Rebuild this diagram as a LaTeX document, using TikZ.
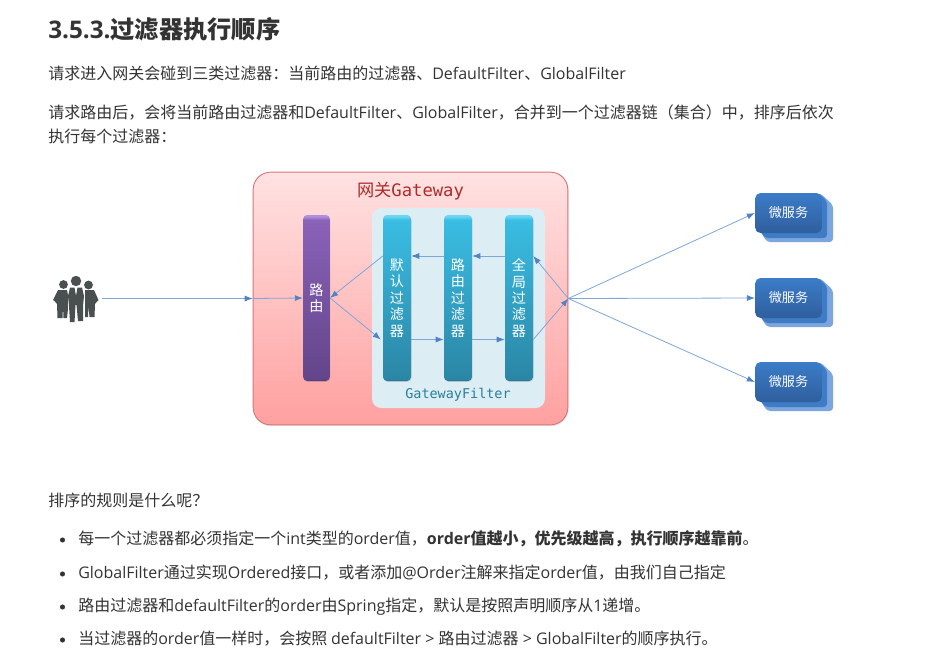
\documentclass[tikz,border=0pt]{standalone}
\usepackage{fontspec}
\usetikzlibrary{arrows.meta,shadows}
\setmainfont{Open Sans}
\newfontfamily\cjk{Noto Sans CJK SC}
\newfontfamily\monof{DejaVu Sans Mono}
\newcommand{\zh}[1]{{\cjk #1}}
\definecolor{inktext}{HTML}{333333}
\definecolor{linkc}{HTML}{7FA6D8}
\definecolor{tipc}{HTML}{4F83C4}
\definecolor{iconc}{HTML}{4A4F50}
\definecolor{gwedge}{HTML}{D9757A}
\definecolor{gwtop}{HTML}{FFE2E2}
\definecolor{gwbot}{HTML}{FFA0A0}
\definecolor{gwtext}{HTML}{B02A2A}
\definecolor{panelc}{HTML}{DCEDF4}
\definecolor{paneltext}{HTML}{2A7F9A}
\definecolor{svcback}{HTML}{7DA5DE}
\definecolor{svcmid}{HTML}{3E7CC6}
\definecolor{svctop}{HTML}{3C7CC8}
\definecolor{svcbot}{HTML}{2F5F9E}
\definecolor{BA}{HTML}{226F8C}
\definecolor{BB}{HTML}{2B86A5}
\definecolor{BC}{HTML}{3ABDE3}
\definecolor{BD}{HTML}{6AD6F2}
\definecolor{PA}{HTML}{4F3570}
\definecolor{PB}{HTML}{63458A}
\definecolor{PC}{HTML}{8A62B8}
\definecolor{PD}{HTML}{B08FDC}
\pgfdeclareverticalshading{bluebar}{100bp}{color(0bp)=(BA);color(25bp)=(BA);color(25.6bp)=(BB);color(73.5bp)=(BC);color(74.6bp)=(BD);color(100bp)=(BD)}
\pgfdeclareverticalshading{purplebar}{100bp}{color(0bp)=(PA);color(25bp)=(PA);color(25.6bp)=(PB);color(73.5bp)=(PC);color(74.6bp)=(PD);color(100bp)=(PD)}
\tikzset{
  body/.style={anchor=base west,inner sep=0pt,text=inktext,font=\fontsize{12pt}{14pt}\selectfont},
  bar/.style={rounded corners=3pt,inner sep=0pt,minimum width=21pt,minimum height=124.5pt,text=white,
    align=center,font=\cjk\fontsize{10.6pt}{12.3pt}\selectfont,drop shadow={shadow xshift=0.4pt,shadow yshift=-0.6pt,opacity=0.25}},
  bluebarst/.style={bar,shading=bluebar},
  purplebarst/.style={bar,minimum width=20pt,shading=purplebar},
  link/.style={draw=linkc,line width=0.6pt,-{Latex[length=6pt,width=4.5pt,color=tipc]}},
  svcfront/.style={rounded corners=4pt,inner sep=0pt,minimum width=50pt,minimum height=30pt,
    top color=svctop,bottom color=svcbot,text=white,font=\cjk\fontsize{9.8pt}{12pt}\selectfont},
  bullet/.style={circle,fill=inktext,inner sep=0pt,minimum size=3.8pt},
}
\begin{document}
\begin{tikzpicture}[x=0.75pt,y=-0.75pt]
\useasboundingbox (0,0) rectangle (937,661);
\fill[white] (0,0) rectangle (937,661);
% texts
\node[body,font=\fontsize{18.2pt}{22pt}\selectfont\bfseries] (title) at (48,38) {3.5.3.\zh{过滤器执行顺序}};
\node[body] (t1) at (48,79) {\zh{请求进入网关会碰到三类过滤器：当前路由的过滤器、}DefaultFilter\zh{、}GlobalFilter};
\node[body] (t2) at (48,118) {\zh{请求路由后，会将当前路由过滤器和}DefaultFilter\zh{、}GlobalFilter\zh{，合并到一个过滤器链（集合）中，排序后依次}};
\node[body] (t3) at (48,142) {\zh{执行每个过滤器：}};
\node[body] (t4) at (48,506) {\zh{排序的规则是什么呢？}};
\node[bullet] (b1) at (62.5,540) {};
\node[bullet] (b2) at (62.5,574) {};
\node[bullet] (b3) at (62.5,607) {};
\node[bullet] (b4) at (62.5,640) {};
\node[body] (l1) at (78,544) {\zh{每一个过滤器都必须指定一个}int\zh{类型的}order\zh{值，}\textbf{order\zh{值越小，优先级越高，执行顺序越靠前}}\zh{。}};
\node[body] (l2) at (78,578) {GlobalFilter\zh{通过实现}Ordered\zh{接口，或者添加}@Order\zh{注解来指定}order\zh{值，由我们自己指定}};
\node[body] (l3) at (78,611) {\zh{路由过滤器和}defaultFilter\zh{的}order\zh{由}Spring\zh{指定，默认是按照声明顺序从}1\zh{递增。}};
\node[body] (l4) at (78,644) {\zh{当过滤器的}order\zh{值一样时，会按照 }defaultFilter > \zh{路由过滤器} > GlobalFilter\zh{的顺序执行。}};
% gateway
\node[draw=gwedge,line width=0.7pt,rounded corners=13pt,minimum width=236pt,minimum height=189.5pt,inner sep=0pt,
  top color=gwtop,bottom color=gwbot,drop shadow={shadow xshift=0.5pt,shadow yshift=-1pt,opacity=0.2}] (gw) at (410.5,298.5) {};
\node[inner sep=0pt,text=gwtext,font=\fontsize{12.9pt}{15pt}\selectfont] (gwt) at (410.5,191.5) {\zh{网关}\monof Gateway};
\node[rounded corners=7pt,fill=panelc,minimum width=129.75pt,minimum height=150pt,inner sep=0pt] (panel) at (458.5,308) {};
\node[inner sep=0pt,text=paneltext,font=\monof\fontsize{10.1pt}{12pt}\selectfont] (panelt) at (458,394.5) {GatewayFilter};
% bars
\node[purplebarst] (route) at (316.5,298) {路\\由};
\node[bluebarst] (dflt) at (397,298) {默\\认\\过\\滤\\器};
\node[bluebarst] (rflt) at (458,298) {路\\由\\过\\滤\\器};
\node[bluebarst] (gflt) at (519,298) {全\\局\\过\\滤\\器};
% people icon
\fill[iconc] (63.5,284.5) circle (4.4pt*0.75);
\fill[iconc] (88.5,285) circle (4.4pt*0.75);
\fill[iconc] (58,290) -- (67,290) -- (69,300) -- (67,318) -- (63.5,318) -- (63,306) -- (62.5,318) -- (57.5,318) -- (57,304) -- (54.5,301) -- (53,300) -- cycle;
\fill[iconc] (94,290) -- (85,290) -- (83,300) -- (85,317) -- (88,317) -- (88.5,306) -- (89.5,317) -- (94.5,317) -- (95,304) -- (97.5,301) -- (98.5,300) -- cycle;
\fill[white] (67.5,288) -- (69.5,288) -- (69.5,322) -- (67.5,322) -- cycle;
\fill[white] (82.5,288) -- (84.5,288) -- (84.5,320) -- (82.5,320) -- cycle;
\fill[iconc] (76,281) circle (5.2pt*0.75);
\fill[iconc] (70,287.5) -- (74.5,287.5) -- (76,296) -- (77.5,287.5) -- (82,287.5) -- (84,296) -- (83,306) -- (83,321) -- (78,321) -- (76.5,305) -- (75.5,305) -- (74.5,322) -- (70,322) -- (69,306) -- (68,296) -- cycle;
\coordinate (people) at (102,298.5);
% services
\foreach \n/\yy in {svcA/193,svcB/278,svcC/362}{
  \fill[rounded corners=2.5pt,svcback] (755,\yy+30) -- (767,\yy+49) -- (833,\yy+49) -- (833,\yy+12) -- (820,\yy) -- cycle;
  \fill[rounded corners=2.5pt,svcmid] (755,\yy+30) -- (765,\yy+45) -- (827,\yy+45) -- (827,\yy+8) -- (818,\yy) -- cycle;
  \node[svcfront] (\n) at (788.5,\yy+20) {微服务};
}
% connectors
\coordinate (rowT) at (458,256);
\coordinate (rowB) at (458,339.5);
\draw[link] (people) -- (gw.west);
\draw[link] (gw.west) -- (route.west);
\draw[link] (dflt.west |- rowT) -- (route.east);
\draw[link] (route.east) -- ([xshift=-1.5pt]dflt.west |- rowB);
\draw[link] (rflt.west |- rowT) -- (dflt.east |- rowT);
\draw[link] (gflt.west |- rowT) -- (rflt.east |- rowT);
\draw[link] (dflt.east |- rowB) -- (rflt.west |- rowB);
\draw[link] (rflt.east |- rowB) -- (gflt.west |- rowB);
\draw[link] (gflt.east |- rowB) -- (gw.east);
\draw[link] (gw.east) -- (gflt.east |- rowT);
\draw[link] (gw.east) -- (svcA.west);
\draw[link] (gw.east) -- (svcB.west);
\draw[link] (gw.east) -- (svcC.west);
\end{tikzpicture}
\end{document}
